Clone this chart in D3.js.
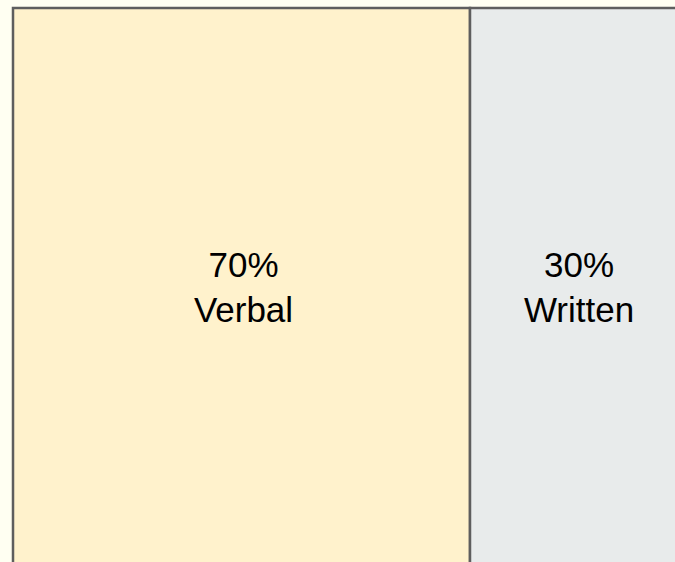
<!DOCTYPE html>
<html>
<head>
<meta charset="utf-8">
<script src="https://cdn.jsdelivr.net/npm/d3@7"></script>
<style>
  html, body { margin: 0; padding: 0; background: #fffff2; }
  svg { display: block; }
</style>
</head>
<body>
<div id="chart-area"></div>
<script>
var width = 675, height = 562;

// Data
var categories = ["Verbal", "Written"];
var shares = [70, 30];
var fills = ["#fff2cc", "#e8ebeb"];

var svg = d3.select("#chart-area")
    .append("svg")
        .attr("width", width)
        .attr("height", height);

// cumulative start of each block
var starts = [];
var acc = 0;
shares.forEach(function(s) { starts.push(acc); acc += s; });

// Scales (block area runs off the right and bottom edges)
var x = d3.scaleLinear()
    .domain([0, 70, 100])
    .range([13, 470, 684]);
var y = d3.scaleLinear()
    .domain([0, 1])
    .range([8, 566]);

var blocks = svg.selectAll("g.block")
    .data(categories)
    .enter().append("g")
        .attr("class", "block");

blocks.append("rect")
    .attr("x", function(d, i) { return x(starts[i]); })
    .attr("y", y(0))
    .attr("width", function(d, i) { return x(starts[i] + shares[i]) - x(starts[i]); })
    .attr("height", y(1) - y(0))
    .attr("fill", function(d, i) { return fills[i]; })
    .attr("stroke", "#5e5e5e")
    .attr("stroke-width", 2.5);

var labels = blocks.append("text")
    .attr("text-anchor", "middle")
    .attr("font-family", "Liberation Sans, Arial, sans-serif")
    .attr("font-size", "35px")
    .attr("fill", "#000");

labels.append("tspan")
    .attr("x", function(d, i) { return (x(starts[i]) + x(starts[i] + shares[i])) / 2 + 2; })
    .attr("y", 277)
    .text(function(d, i) { return shares[i] + "%"; });

labels.append("tspan")
    .attr("x", function(d, i) { return (x(starts[i]) + x(starts[i] + shares[i])) / 2 + 2; })
    .attr("y", 322)
    .text(function(d) { return d; });
</script>
</body>
</html>
